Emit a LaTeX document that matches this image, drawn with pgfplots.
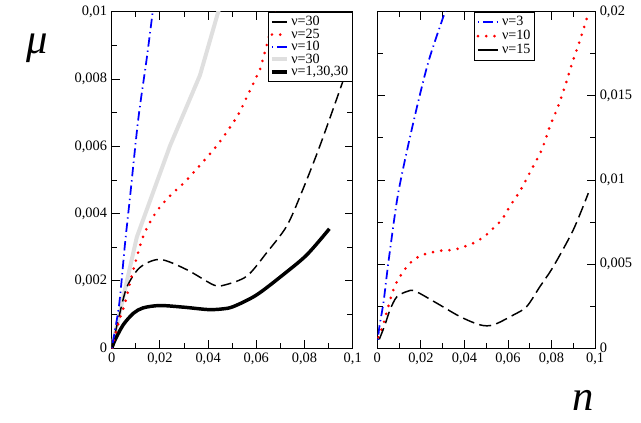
\documentclass[border=0pt]{standalone}
\usepackage{fontspec}
\setmainfont{Liberation Serif}
\usepackage{pgfplots}
\pgfplotsset{compat=1.18}
\begin{document}
\begin{tikzpicture}
\path[use as bounding box] (0,0) rectangle (480.75pt,316.5pt);
\pgfplotsset{
  common/.style={
    scale only axis,
    height=252.4pt,
    xmin=0, xmax=0.1, ymin=0,
    axis line style={line width=0.8pt},
    tick style={black, line width=0.7pt},
    tick align=inside,
    major tick length=6pt,
    minor tick length=4pt,
    xtick={0,0.02,0.04,0.06,0.08,0.1},
    minor x tick num=1,
    minor y tick num=1,
    scaled x ticks=false, scaled y ticks=false,
    tick label style={font=\fontsize{10.8}{12}\selectfont},
    /pgf/number format/assume math mode=true,
    xticklabel style={/pgf/number format/.cd, fixed, precision=2, use comma},
    yticklabel style={/pgf/number format/.cd, fixed, precision=3, use comma},
    legend cell align=left,
    legend style={draw=black, line width=0.6pt, fill=white, font=\fontsize{10.6}{11}\selectfont, inner sep=1.2pt, row sep=-3.2pt, nodes={inner sep=2pt}},
  },
  dashblack/.style={black, line width=1.1pt, dash pattern=on 8pt off 4pt},
  reddot/.style={red, line width=2.2pt, line cap=round, dash pattern=on 0pt off 6.2pt},
  bluedd/.style={blue, line width=1.3pt, dash pattern=on 1pt off 3pt on 7pt off 3pt},
}
% Left panel
\begin{axis}[common,
  at={(83.8pt,55.3pt)}, anchor=south west,
  width=180.75pt,
  ymax=0.01,
  ytick={0,0.002,0.004,0.006,0.008,0.01},
  legend style={at={(1,1)}, anchor=north east},
  legend image code/.code={\draw[#1] (0pt,0pt) -- (11pt,0pt);},
]
\addlegendimage{black, line width=1.1pt}
\addlegendentry{ν=30}
\addlegendimage{reddot}
\addlegendentry{ν=25}
\addlegendimage{bluedd}
\addlegendentry{ν=10}
\addlegendimage{gray!25, line width=3pt}
\addlegendentry{ν=30}
\addlegendimage{black, line width=2.6pt}
\addlegendentry{ν=1,30,30}
\addplot[gray!25, line width=3pt, forget plot] coordinates {
(0,0) (0.0104,0.0033) (0.0242,0.00602) (0.0366,0.00811) (0.0442,0.01) (0.046,0.0104)};
\addplot[black, line width=2.6pt, smooth, forget plot] coordinates {
(0,0) (0.0014,0.00025) (0.0048,0.0007) (0.009,0.00104) (0.013,0.0012) (0.02,0.00127) (0.03,0.00122) (0.04,0.00115) (0.046,0.00117) (0.0505,0.00124) (0.06,0.00158) (0.0712,0.00219) (0.081,0.00278) (0.0903,0.00355)};
\addplot[dashblack, smooth, forget plot] coordinates {
(0,0) (0.0027,0.00084) (0.0062,0.0018) (0.0117,0.0024) (0.02,0.00264) (0.031,0.00234) (0.042,0.00189) (0.0463,0.00187) (0.056,0.00214) (0.0643,0.00284) (0.0726,0.00363) (0.0788,0.00463) (0.0864,0.00602) (0.0958,0.00791) (0.1,0.0088)};
\addplot[reddot, smooth, forget plot] coordinates {
(0,0) (0.003,0.0008) (0.0055,0.00134) (0.009,0.00234) (0.0131,0.00333) (0.018,0.004) (0.0235,0.00448) (0.0308,0.00497) (0.0339,0.00522) (0.0436,0.00602) (0.0519,0.00687) (0.056,0.00746) (0.0602,0.00809) (0.062,0.0084) (0.068,0.0100)};
\addplot[bluedd, smooth, forget plot] coordinates {
(0,0) (0.002,0.0008) (0.0034,0.0015) (0.0055,0.0031) (0.0076,0.0045) (0.011,0.0068) (0.0145,0.0086) (0.017,0.01) (0.018,0.0106)};
\end{axis}
% Right panel
\begin{axis}[common,
  at={(283pt,55.3pt)}, anchor=south west,
  width=163.3pt,
  ymax=0.02,
  ytick={0,0.005,0.01,0.015,0.02},
  yticklabel pos=right,
  legend style={at={(0.446,1)}, anchor=north west, row sep=-2pt},
  legend image code/.code={\draw[#1] (2pt,0pt) -- (17pt,0pt);},
]
\addlegendimage{bluedd}
\addlegendentry{ν=3}
\addlegendimage{reddot}
\addlegendentry{ν=10}
\addlegendimage{black, line width=1.1pt}
\addlegendentry{ν=15}
\addplot[bluedd, smooth, forget plot] coordinates {
(0.0003,0.0005) (0.0009,0.00125) (0.0028,0.0027) (0.0043,0.0043) (0.0058,0.0058) (0.0097,0.0093) (0.0165,0.0134) (0.0234,0.017) (0.0311,0.02) (0.033,0.0207)};
\addplot[reddot, smooth, forget plot] coordinates {
(0.0005,0.00065) (0.0025,0.00133) (0.004,0.00202) (0.0055,0.00268) (0.0069,0.00331) (0.0089,0.00393) (0.0117,0.00452) (0.015,0.00506) (0.0196,0.00549) (0.0247,0.00569) (0.0297,0.00581) (0.0349,0.00585) (0.04,0.00604) (0.0449,0.0063) (0.0495,0.00668) (0.0533,0.00714) (0.0571,0.00763) (0.0599,0.00823) (0.0628,0.00882) (0.0657,0.00938) (0.0707,0.0106) (0.0755,0.0118) (0.0793,0.0132) (0.0831,0.0144) (0.0865,0.0157) (0.0896,0.017) (0.0928,0.0182) (0.0962,0.0196) (0.097,0.0199)};
\addplot[black, line width=1.1pt, dash pattern=on 9pt off 4pt, smooth, forget plot] coordinates {
(0.0009,0.00053) (0.0035,0.00139) (0.0058,0.00228) (0.0089,0.00305) (0.0135,0.00337) (0.0173,0.0034) (0.0273,0.00268) (0.038,0.00188) (0.0472,0.00139) (0.0533,0.00139) (0.0625,0.00198) (0.0686,0.00248) (0.0747,0.00367) (0.0808,0.00485) (0.09,0.00704) (0.0969,0.00922)};
\end{axis}
\node[anchor=base west, inner sep=0pt, font=\fontsize{32}{34}\selectfont\itshape] at (19.5pt,276.5pt) {μ};
\node[anchor=base west, inner sep=0pt, font=\fontsize{32}{34}\selectfont\itshape] at (428.8pt,9pt) {n};
\end{tikzpicture}
\end{document}
